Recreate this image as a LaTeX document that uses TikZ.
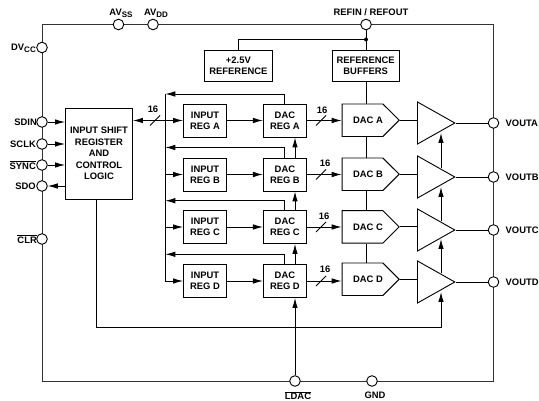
\documentclass[tikz,border=0pt]{standalone}
\usepackage{fontspec}
\setmainfont{Liberation Sans}
\usetikzlibrary{arrows.meta}
\usetikzlibrary{calc}
\usetikzlibrary{positioning}
\usetikzlibrary{shapes.geometric}
\usetikzlibrary{shapes.symbols}
\newcommand{\pinsub}[1]{\raisebox{-1.8pt}{\fontsize{8}{9}\selectfont #1}}

\begin{document}
\begin{tikzpicture}[x=1pt, y=-1pt, line width=0.9pt, font=\bfseries\fontsize{9.4}{11.2}\selectfont]
      \tikzstyle{regbox} = [draw, align=center, inner sep=0pt, minimum width=43pt, minimum height=33pt]
      \tikzstyle{refbox} = [draw, align=center, inner sep=0pt, minimum height=31pt]
      \tikzstyle{dacbox} = [draw, signal, signal to=east, signal pointer angle=90, inner sep=0pt, minimum width=56.4pt, minimum height=32.5pt]
      \tikzstyle{amp} = [draw, isosceles triangle, isosceles triangle stretches, anchor=apex, inner sep=0pt, minimum width=42pt, minimum height=37.3pt]
      \tikzstyle{pinmark} = [draw, circle, fill=white, inner sep=0pt, minimum size=10.6pt]
      \tikzstyle{pinlabel} = [inner sep=0pt]
      \tikzstyle{arrowline} = [-{Latex[length=10pt, width=5.5pt]}]
      \tikzstyle{bothline} = [{Latex[length=10pt, width=5.5pt]}-{Latex[length=10pt, width=5.5pt]}]

      \useasboundingbox (0,0) rectangle (539,401);

      \node (frame) [draw, minimum width=451pt, minimum height=356.5pt, inner sep=0pt, black!80] at (267.5,202.75) {};

      \node (avss) [pinmark] at (118.5,24.5) {};
      \node (avdd) [pinmark] at (153,24.5) {};
      \node (refin) [pinmark] at (366,24.5) {};
      \node (dvcc) [pinmark] at (42,47.5) {};
      \node (sdin) [pinmark] at (42,122) {};
      \node (sclk) [pinmark] at (42,144) {};
      \node (sync) [pinmark] at (42,165) {};
      \node (sdo) [pinmark] at (42,186) {};
      \node (clr) [pinmark] at (42,239) {};
      \node (vouta) [pinmark] at (493.5,123) {};
      \node (voutb) [pinmark] at (493.5,177) {};
      \node (voutc) [pinmark] at (493.5,230) {};
      \node (voutd) [pinmark] at (493.5,282) {};
      \node (ldac) [pinmark] at (295,381) {};
      \node (gnd) [pinmark] at (372,381) {};

      \node [pinlabel, above=0.5pt of avss, xshift=2.5pt] {AV\pinsub{SS}};
      \node [pinlabel, above=0.5pt of avdd, xshift=3pt] {AV\pinsub{DD}};
      \node [pinlabel, above=3pt of refin, xshift=5pt] {REFIN / REFOUT};
      \node [pinlabel, left=0pt of dvcc, yshift=-1pt] {DV\pinsub{CC}};
      \node [pinlabel, left=-1pt of sdin] {SDIN};
      \node [pinlabel, left=0pt of sclk] {SCLK};
      \node [pinlabel, left=0pt of sync] {$\overline{\mbox{SYNC}}$};
      \node [pinlabel, left=0pt of sdo] {SDO};
      \node [pinlabel, left=-1pt of clr] {$\overline{\mbox{CLR}}$};
      \node [pinlabel, right=6pt of vouta] {VOUTA};
      \node [pinlabel, right=6pt of voutb] {VOUTB};
      \node [pinlabel, right=6pt of voutc] {VOUTC};
      \node [pinlabel, right=6pt of voutd] {VOUTD};
      \node [pinlabel, below=4pt of ldac, xshift=3pt] {$\overline{\mbox{LDAC}}$};
      \node [pinlabel, below=5pt of gnd, xshift=3pt] {GND};

      \node (shiftreg) [draw, align=center, inner sep=0pt, minimum width=67pt, minimum height=90.5pt, font=\bfseries\fontsize{9.4}{11.5}\selectfont] at (99,153.75) {INPUT SHIFT\\REGISTER\\AND\\CONTROL\\LOGIC};

      \node (plusref) [refbox, minimum width=67.8pt] at (238.4,65.5) {+2.5V\\REFERENCE};
      \node (refbuf) [refbox, minimum width=67.3pt] at (365.65,65.5) {REFERENCE\\BUFFERS};
      \node (refdot) [circle, fill, inner sep=0pt, minimum size=4pt] at (366,39.5) {};

      \node (inputA) [regbox] at (205,120.5) {INPUT\\REG A};
      \node (inputB) [regbox] at (205,174.5) {INPUT\\REG B};
      \node (inputC) [regbox] at (205,227) {INPUT\\REG C};
      \node (inputD) [regbox] at (205,281) {INPUT\\REG D};

      \node (dacregA) [regbox, right=36pt of inputA] {DAC\\REG A};
      \node (dacregB) [regbox, right=36pt of inputB] {DAC\\REG B};
      \node (dacregC) [regbox, right=36pt of inputC] {DAC\\REG C};
      \node (dacregD) [regbox, right=36pt of inputD] {DAC\\REG D};

      \node (dacA) [dacbox] at (362.5,120.25) {\hspace*{11pt}DAC A};
      \node (dacB) [dacbox] at (362.5,174.25) {\hspace*{11pt}DAC B};
      \node (dacC) [dacbox] at (362.5,226.85) {\hspace*{11pt}DAC C};
      \node (dacD) [dacbox] at (362.5,279.25) {\hspace*{11pt}DAC D};

      \node (ampA) [amp] at (456,123) {};
      \node (ampB) [amp] at (456,177) {};
      \node (ampC) [amp] at (456,230) {};
      \node (ampD) [amp] at (456,282) {};

      \draw (refin) -- (refin |- refbuf.north);
      \draw (refdot) -| (plusref.north);
      \draw (refin |- refbuf.south) -- (refin |- dacA.north);
      \draw (refin |- dacA.south) -- (refin |- dacB.north);
      \draw (refin |- dacB.south) -- (refin |- dacC.north);
      \draw (refin |- dacC.south) -- (refin |- dacD.north);

      \draw [arrowline] (sdin) -- (sdin -| shiftreg.west);
      \draw [arrowline] (sclk) -- (sclk -| shiftreg.west);
      \draw [arrowline] (sync) -- (sync -| shiftreg.west);
      \draw [arrowline] (sdo -| shiftreg.west) -- (sdo);

      \coordinate (busA) at (165.3,94);
      \coordinate (busB) at (165.3,147.5);
      \coordinate (busC) at (165.3,200.7);
      \coordinate (busD) at (165.3,254.3);
      \draw (busA) -- (busA |- inputD);
      \draw [bothline] (shiftreg.east |- inputA) -- (inputA.west);
      \draw [arrowline] (busA |- inputB) -- (inputB.west);
      \draw [arrowline] (busA |- inputC) -- (inputC.west);
      \draw [arrowline] (busA |- inputD) -- (inputD.west);
      \draw [arrowline] (dacregA.north) |- (busA);
      \draw [arrowline] (dacregB.north) |- (busB);
      \draw [arrowline] (dacregC.north) |- (busC);
      \draw [arrowline] (dacregD.north) |- (busD);

      \coordinate (sliceBus) at (155,120.5);
      \draw (sliceBus) ++(-5,5) -- ++(10,-10);
      \node [pinlabel, above=7pt of sliceBus, xshift=-2pt] {16};

      \draw [arrowline] (inputA) -- (dacregA);
      \draw [arrowline] (inputB) -- (dacregB);
      \draw [arrowline] (inputC) -- (dacregC);
      \draw [arrowline] (inputD) -- (dacregD);

      \draw [arrowline] (ldac) -- (ldac |- dacregD.south);
      \draw [arrowline] (ldac |- dacregD.north) -- (ldac |- dacregC.south);
      \draw [arrowline] (ldac |- dacregC.north) -- (ldac |- dacregB.south);
      \draw [arrowline] (ldac |- dacregB.north) -- (ldac |- dacregA.south);

      \draw [arrowline] (dacregA.east) -- (dacregA.east -| dacA.west);
      \draw [arrowline] (dacregB.east) -- (dacregB.east -| dacB.west);
      \draw [arrowline] (dacregC.east) -- (dacregC.east -| dacC.west);
      \draw [arrowline] (dacregD.east) -- (dacregD.east -| dacD.west);

      \coordinate (sliceA) at (321,120.5);
      \coordinate (sliceB) at (321,174.5);
      \coordinate (sliceC) at (321,227);
      \coordinate (sliceD) at (321,281);
      \draw (sliceA) ++(-5,5) -- ++(10,-10);
      \draw (sliceB) ++(-5,5) -- ++(10,-10);
      \draw (sliceC) ++(-5,5) -- ++(10,-10);
      \draw (sliceD) ++(-5,5) -- ++(10,-10);
      \node [pinlabel, above=6pt of sliceA, xshift=1pt] {16};
      \node [pinlabel, above=7pt of sliceB, xshift=4pt] {16};
      \node [pinlabel, above=7pt of sliceC, xshift=3pt] {16};
      \node [pinlabel, above=8pt of sliceD, xshift=4pt] {16};

      \draw (dacA.east) -- (dacA.east -| ampA.left corner);
      \draw (dacB.east) -- (dacB.east -| ampB.left corner);
      \draw (dacC.east) -- (dacC.east -| ampC.left corner);
      \draw (dacD.east) -- (dacD.east -| ampD.left corner);

      \draw (ampA.apex) -- (vouta);
      \draw (ampB.apex) -- (voutb);
      \draw (ampC.apex) -- (voutc);
      \draw (ampD.apex) -- (voutd);

      \draw [arrowline] ($(ampB.apex)+(-15,-8.5)$) -- ($(ampA.apex)+(-15,10)$);
      \draw [arrowline] ($(ampC.apex)+(-15,-8.5)$) -- ($(ampB.apex)+(-15,10)$);
      \draw [arrowline] ($(ampD.apex)+(-15,-8.5)$) -- ($(ampC.apex)+(-15,9)$);

      \coordinate (loopcorner) at (96,327);
      \draw [arrowline] (loopcorner |- shiftreg.south) -- (loopcorner) -| ($(ampD.apex)+(-15,10)$);
    \end{tikzpicture}
\end{document}
